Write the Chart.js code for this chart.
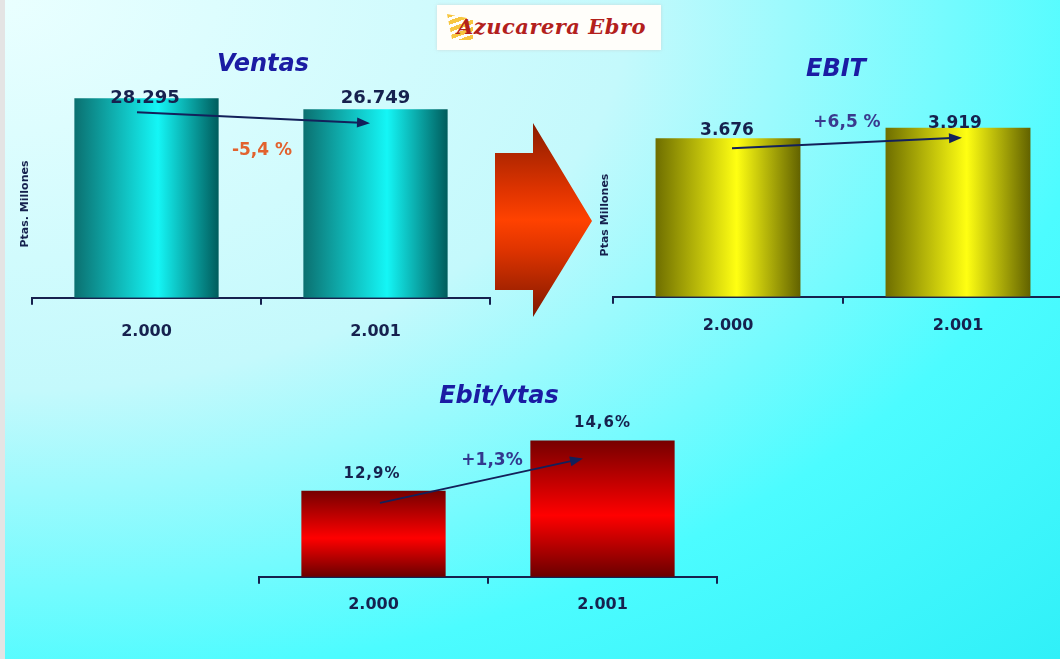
<!DOCTYPE html>
<html>
<head>
<meta charset="utf-8">
<script src="https://cdn.jsdelivr.net/npm/chart.js@4.4.1/dist/chart.umd.min.js"></script>
<style>
  html, body { margin: 0; padding: 0; }
  body {
    width: 1060px; height: 659px; overflow: hidden; position: relative;
    background: radial-gradient(ellipse farthest-corner at 0 0, #eaffff 0%, #c4f9fc 42%, #4cfcff 74%, #30f0f8 100%);
  }
  #strip { position: absolute; left: 0; top: 0; width: 5px; height: 659px; background: #e4e4e4; }
  canvas { position: absolute; left: 0; top: 0; }
  #logo {
    position: absolute; left: 437px; top: 5px; width: 224px; height: 45px;
    background: #fffefa; box-shadow: 0 0 3px rgba(200,200,200,0.6);
  }
  #logo .stripes {
    position: absolute; left: 10px; top: 9px; width: 26px; height: 26px;
    background: repeating-linear-gradient(160deg, #f7c640 0 4px, transparent 4px 7px);
    clip-path: polygon(0 0, 100% 20%, 100% 100%, 20% 100%);
  }
  #logo .txt {
    position: absolute; left: 20px; top: 9px;
    font: italic bold 21px "DejaVu Serif", serif; color: #b3201c; letter-spacing: 0.5px;
  }
  #bigArrow {
    position: absolute; left: 495px; top: 123px; width: 97px; height: 194px;
    background: linear-gradient(180deg, #8a1c00 0%, #e03400 35%, #ff4200 50%, #e03400 65%, #7e1800 100%);
    clip-path: polygon(0 30px, 38px 30px, 38px 0, 97px 98px, 38px 194px, 38px 167px, 0 167px);
  }
</style>
</head>
<body>
<div id="strip"></div>
<div id="logo"><div class="stripes"></div><div class="txt">Azucarera Ebro</div></div>
<div id="bigArrow"></div>
<canvas id="ventasChart" width="1060" height="659"></canvas>
<canvas id="ebitChart" width="1080" height="659"></canvas>
<canvas id="margenChart" width="1060" height="659"></canvas>
<script>
// datos
const years = ['2.000', '2.001'];
const ventas = [28295, 26749];
const ebit = [3676, 3919];
const margen = [12.9, 14.6];
const cambios = ['-5,4 %', '+6,5 %', '+1,3%'];

const navy = '#16214e';
const fmtMiles = v => String(v).replace(/\B(?=(\d{3})+(?!\d))/g, '.');
const fmtPct = v => v.toFixed(1).replace('.', ',') + '%';

// gradiente horizontal por barra
function hGrad(stops, fallback) {
  return c => {
    const ch = c.chart;
    if (!ch.chartArea || c.dataIndex === undefined) return fallback;
    const xs = ch.scales.x;
    const x = xs.getPixelForValue(c.dataIndex);
    const w = xs.width / ch.data.labels.length * 0.63;
    const g = ch.ctx.createLinearGradient(x - w / 2, 0, x + w / 2, 0);
    stops.forEach(s => g.addColorStop(s[0], s[1]));
    return g;
  };
}
// gradiente vertical por barra
function vGrad(stops, fallback) {
  return c => {
    const ch = c.chart;
    if (!ch.chartArea || c.dataIndex === undefined) return fallback;
    const ys = ch.scales.y;
    const top = ys.getPixelForValue(c.raw);
    const g = ch.ctx.createLinearGradient(0, top, 0, ys.bottom);
    stops.forEach(s => g.addColorStop(s[0], s[1]));
    return g;
  };
}

// titulo, etiquetas, flecha y variacion
const overlay = {
  id: 'overlay',
  afterDatasetsDraw(chart, args, o) {
    const ctx = chart.ctx, xs = chart.scales.x, ys = chart.scales.y, a = chart.chartArea;
    const data = chart.data.datasets[0].data;
    ctx.save();
    ctx.textAlign = 'center';
    ctx.textBaseline = 'middle';

    ctx.font = 'italic bold 24px "DejaVu Sans"';
    ctx.fillStyle = '#1b1ca3';
    ctx.fillText(o.title, (a.left + a.right) / 2 + o.titleDx, o.titleY);

    if (o.yTitle) {
      ctx.save();
      ctx.translate(o.yTitleX, o.yTitleY);
      ctx.rotate(-Math.PI / 2);
      ctx.font = 'bold 11px "DejaVu Sans"';
      ctx.fillStyle = navy;
      ctx.fillText(o.yTitle, 0, 0);
      ctx.restore();
    }

    ctx.font = o.labelFont;
    ctx.fillStyle = navy;
    ctx.letterSpacing = o.spacing || '0px';
    data.forEach((v, i) => {
      ctx.fillText(o.fmt(v), xs.getPixelForValue(i) + o.labelOff[i][0], ys.getPixelForValue(v) + o.labelOff[i][1]);
    });
    ctx.letterSpacing = '0px';

    const x0 = xs.getPixelForValue(0) + o.arrow[0], y0 = ys.getPixelForValue(data[0]) + o.arrow[1];
    const x1 = xs.getPixelForValue(1) + o.arrow[2], y1 = ys.getPixelForValue(data[1]) + o.arrow[3];
    const ang = Math.atan2(y1 - y0, x1 - x0);
    ctx.strokeStyle = '#13205a';
    ctx.fillStyle = '#13205a';
    ctx.lineWidth = 2;
    ctx.beginPath();
    ctx.moveTo(x0, y0);
    ctx.lineTo(x1 - 10 * Math.cos(ang), y1 - 10 * Math.sin(ang));
    ctx.stroke();
    ctx.beginPath();
    ctx.moveTo(x1, y1);
    ctx.lineTo(x1 - 13 * Math.cos(ang) + 5 * Math.sin(ang), y1 - 13 * Math.sin(ang) - 5 * Math.cos(ang));
    ctx.lineTo(x1 - 13 * Math.cos(ang) - 5 * Math.sin(ang), y1 - 13 * Math.sin(ang) + 5 * Math.cos(ang));
    ctx.closePath();
    ctx.fill();

    ctx.font = o.pctFont;
    ctx.fillStyle = o.pctColor;
    const mid = (xs.getPixelForValue(0) + xs.getPixelForValue(1)) / 2;
    ctx.fillText(o.pct, mid + o.pctOff[0], ys.getPixelForValue(data[1]) + o.pctOff[1]);
    ctx.restore();
  }
};

function xAxis(pad) {
  return {
    grid: { display: true, drawOnChartArea: false, offset: true, tickLength: 7, color: navy, lineWidth: 2 },
    border: { display: true, color: navy, width: 2 },
    ticks: { padding: pad, color: navy, font: { family: 'DejaVu Sans', weight: 'bold', size: 16 } }
  };
}

function barChart(id, values, yMin, yMax, padding, color, pad, overlayOpts) {
  return new Chart(document.getElementById(id), {
    type: 'bar',
    data: {
      labels: years,
      datasets: [{ data: values, backgroundColor: color, categoryPercentage: 1, barPercentage: 0.63, borderWidth: 0 }]
    },
    options: {
      responsive: false,
      animation: false,
      layout: { padding: padding },
      scales: {
        x: xAxis(pad),
        y: { display: false, min: yMin, max: yMax }
      },
      plugins: { legend: { display: false }, tooltip: { enabled: false }, overlay: overlayOpts }
    },
    plugins: [overlay]
  });
}

barChart('ventasChart', ventas, 0, 34000,
  { left: 32, right: 570, top: 58, bottom: 301 },
  hGrad([[0, '#0b7070'], [0.58, '#14f6f6'], [1, '#005c5c']], '#10c0c0'), 17, {
    title: 'Ventas', titleDx: 2, titleY: 65,
    yTitle: 'Ptas. Millones', yTitleX: 25, yTitleY: 204,
    labelFont: 'bold 18px "DejaVu Sans"', fmt: fmtMiles,
    labelOff: [[-1.5, 0], [0, -11]],
    arrow: [-9.5, 14, -5.5, 14],
    pct: cambios[0], pctFont: 'bold 17px "DejaVu Sans"', pctColor: '#e2622e', pctOff: [1, 41]
  });

barChart('ebitChart', ebit, 0, 5000,
  { left: 613, right: 7, top: 81, bottom: 312 },
  hGrad([[0, '#6e6e00'], [0.56, '#ffff12'], [1, '#626200']], '#d0d000'), 12, {
    title: 'EBIT', titleDx: -7, titleY: 70,
    yTitle: 'Ptas Millones', yTitleX: 605, yTitleY: 215,
    labelFont: 'bold 17px "DejaVu Sans"', fmt: fmtMiles,
    labelOff: [[-1, -8], [-3, -4]],
    arrow: [4, 10, 4, 10],
    pct: cambios[1], pctFont: 'bold 17px "DejaVu Sans"', pctColor: '#3a3a8e', pctOff: [4, -5]
  });

barChart('margenChart', margen, 10, 16,
  { left: 259, right: 343, top: 399, bottom: 34 },
  vGrad([[0, '#760000'], [0.55, '#ff0000'], [1, '#6a0000']], '#d00000'), 11, {
    title: 'Ebit/vtas', titleDx: 11, titleY: 397,
    yTitle: '', labelFont: 'bold 15px "DejaVu Sans"', spacing: '1px', fmt: fmtPct,
    labelOff: [[-1.5, -17], [0, -17]],
    arrow: [6.5, 12, -19.5, 18],
    pct: cambios[2], pctFont: 'bold 17px "DejaVu Sans"', pctColor: '#33388e', pctOff: [4, 20]
  });
</script>
</body>
</html>
